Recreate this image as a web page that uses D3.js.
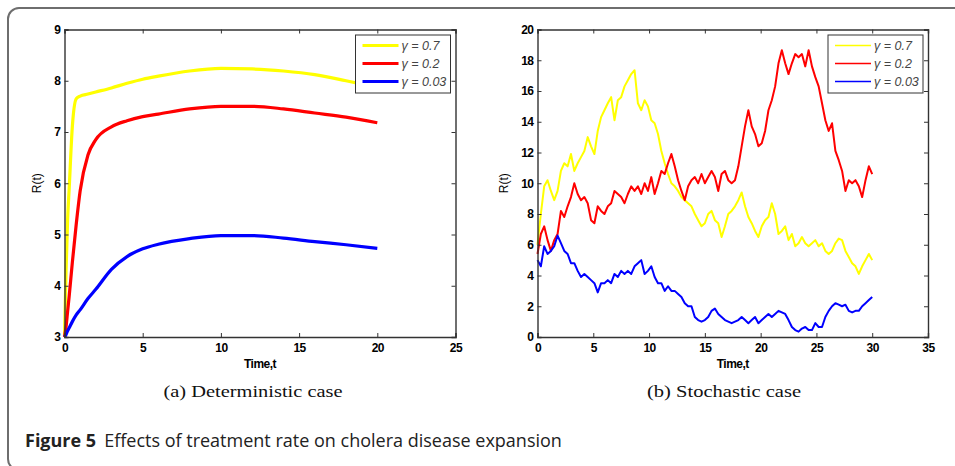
<!DOCTYPE html>
<html>
<head>
<meta charset="utf-8">
<script src="https://cdn.jsdelivr.net/npm/d3@7"></script>
<style>
  body { margin: 0; background: #fff; }
  svg { display: block; }
  .tick text, .axlab { font-family: "Liberation Sans", Arial, sans-serif; font-weight: bold; font-size: 12px; fill: #000; letter-spacing: -0.5px; }
</style>
</head>
<body>
<svg id="chart" width="955" height="466"></svg>
<script>
// ---------- DATA ----------
const seriesNames = ["γ = 0.7", "γ = 0.2", "γ = 0.03"];
const seriesColors = ["#ffff00", "#ff0000", "#0000ff"];

// (a) Deterministic case
const detTime = [0, 0.1, 0.2, 0.3, 0.5, 0.75, 1, 1.5, 2, 3, 4, 5, 6, 8, 10, 12, 14, 16, 18, 20];
const detYellow = [3, 4.3, 5.3, 5.9, 7.1, 7.65, 7.7, 7.74, 7.78, 7.86, 7.95, 8.03, 8.09, 8.19, 8.24, 8.23, 8.19, 8.12, 8.0, 7.87];
const detRed    = [3, 3.2, 3.5, 3.8, 4.45, 5.2, 5.85, 6.55, 6.85, 7.1, 7.22, 7.3, 7.35, 7.45, 7.5, 7.5, 7.45, 7.37, 7.29, 7.18];
const detBlue   = [3, 3.05, 3.12, 3.18, 3.3, 3.43, 3.53, 3.75, 3.93, 4.32, 4.57, 4.72, 4.81, 4.92, 4.98, 4.98, 4.93, 4.86, 4.8, 4.73];
const detXTicks = [0, 5, 10, 15, 20, 25];
const detYTicks = [3, 4, 5, 6, 7, 8, 9];

// (b) Stochastic case
const stoTime = [
  0, 0.3, 0.6, 0.9, 1.2, 1.5, 1.8, 2.1, 2.4, 2.7,
  3, 3.3, 3.6, 3.9, 4.2, 4.5, 4.8, 5.1, 5.4, 5.7,
  6, 6.3, 6.6, 6.9, 7.2, 7.5, 7.8, 8.1, 8.4, 8.7,
  9, 9.3, 9.6, 9.9, 10.2, 10.5, 10.8, 11.1, 11.4, 11.7,
  12, 12.3, 12.6, 12.9, 13.2, 13.5, 13.8, 14.1, 14.4, 14.7,
  15, 15.3, 15.6, 15.9, 16.2, 16.5, 16.8, 17.1, 17.4, 17.7,
  18, 18.3, 18.6, 18.9, 19.2, 19.5, 19.8, 20.1, 20.4, 20.7,
  21, 21.3, 21.6, 21.9, 22.2, 22.5, 22.8, 23.1, 23.4, 23.7,
  24, 24.3, 24.6, 24.9, 25.2, 25.5, 25.8, 26.1, 26.4, 26.7,
  27, 27.3, 27.6, 27.9, 28.2, 28.5, 28.8, 29.1, 29.4, 29.7,
  30];
const stoYellow = [
  6.0, 8.0, 9.8, 10.2, 9.5, 8.9, 9.5, 10.8, 11.3, 11.1,
  11.9, 10.8, 11.3, 11.7, 12.1, 13.0, 12.4, 11.9, 13.4, 14.3,
  14.75, 15.2, 15.6, 14.1, 15.4, 15.6, 16.3, 16.7, 17.1, 17.35,
  15.2, 14.75, 15.4, 15.0, 14.1, 13.9, 13.2, 12.1, 11.3, 10.6,
  10.0, 9.8, 9.5, 9.1, 8.9, 8.7, 8.5, 8.0, 7.6, 7.2,
  7.4, 8.0, 8.2, 7.6, 7.4, 6.5, 7.2, 8.0, 8.2, 8.5,
  8.9, 9.4, 8.5, 7.8, 7.4, 6.9, 6.5, 7.2, 7.6, 7.8,
  8.7, 8.0, 6.7, 6.9, 7.2, 6.3, 6.7, 5.9, 6.1, 6.5,
  6.1, 5.9, 6.1, 6.3, 5.9, 6.1, 5.6, 5.4, 5.6, 6.1,
  6.4, 6.3, 5.6, 5.2, 4.8, 4.6, 4.1, 4.6, 5.0, 5.4,
  5.0];
const stoRed = [
  5.4, 6.7, 7.2, 6.3, 5.6, 6.3, 6.7, 8.2, 7.8, 8.5,
  9.1, 10.0, 9.3, 8.9, 9.1, 8.7, 7.6, 7.4, 8.5, 8.2,
  8.0, 8.5, 8.7, 9.5, 9.3, 9.1, 8.7, 9.3, 9.8, 9.5,
  9.8, 9.3, 10.0, 9.5, 10.4, 9.3, 10.0, 10.8, 10.6, 11.3,
  11.9, 11.1, 10.2, 9.5, 8.9, 9.8, 10.2, 10.4, 10.0, 10.6,
  10.0, 10.4, 10.8, 10.4, 9.5, 10.6, 10.8, 10.2, 10.0, 10.2,
  11.1, 12.4, 13.7, 14.75, 13.7, 13.2, 12.4, 12.6, 13.4, 14.75,
  15.4, 16.3, 17.8, 18.65, 17.8, 17.1, 17.8, 18.4, 18.2, 18.4,
  17.6, 18.65, 17.6, 16.9, 16.3, 15.2, 14.1, 13.4, 13.9, 12.1,
  11.5, 10.8, 9.5, 10.2, 10.0, 10.2, 9.8, 9.1, 10.2, 11.1,
  10.6];
const stoBlue = [
  5.0, 4.6, 5.9, 5.4, 5.6, 5.9, 6.6, 6.1, 5.6, 5.4,
  4.8, 4.8, 4.3, 3.9, 4.1, 3.9, 3.7, 3.5, 2.9, 3.5,
  3.5, 3.7, 3.5, 4.1, 3.9, 4.3, 4.1, 4.3, 4.1, 4.6,
  4.8, 5.0, 4.1, 4.3, 4.6, 3.9, 3.5, 3.5, 3.0, 3.3,
  3.0, 3.0, 2.8, 2.6, 2.2, 2.0, 2.0, 1.3, 1.1, 1.0,
  1.1, 1.3, 1.7, 1.85, 1.5, 1.3, 1.1, 1.0, 0.9, 1.0,
  1.1, 1.3, 1.1, 0.9, 1.1, 1.3, 0.9, 1.1, 1.3, 1.5,
  1.3, 1.5, 1.7, 1.6, 1.5, 1.1, 0.65, 0.45, 0.35, 0.55,
  0.65, 0.45, 0.45, 0.9, 0.65, 0.65, 1.3, 1.7, 2.0, 2.2,
  2.1, 2.0, 2.1, 1.7, 1.6, 1.7, 1.7, 2.0, 2.2, 2.4,
  2.6];
const stoXTicks = [0, 5, 10, 15, 20, 25, 30, 35];
const stoYTicks = [0, 2, 4, 6, 8, 10, 12, 14, 16, 18, 20];

const subCaptions = ["(a) Deterministic case", "(b) Stochastic case"];
const xLabel = "Time,t";
const yLabel = "R(t)";
const figBold = "Figure 5";
const figText = "Effects of treatment rate on cholera disease expansion";

// ---------- DRAW ----------
const svg = d3.select("#chart");

// outer frame (top + left, rounded corner)
svg.append("rect")
  .attr("x", 8).attr("y", 8).attr("width", 1000).attr("height", 462)
  .attr("rx", 11).attr("fill", "none").attr("stroke", "#6e6e6e").attr("stroke-width", 2);

function panel(cfg) {
  const g = svg.append("g");
  const x = d3.scaleLinear().domain(cfg.xDomain).range([cfg.left, cfg.right]);
  const y = d3.scaleLinear().domain(cfg.yDomain).range([cfg.bottom, cfg.top]);
  const tl = 4;

  // lines
  const line = d3.line().x(d => x(d[0])).y(d => y(d[1])).curve(cfg.curve);
  cfg.series.forEach((vals, i) => {
    g.append("path")
      .datum(cfg.time.map((t, k) => [t, vals[k]]))
      .attr("fill", "none")
      .attr("stroke", seriesColors[i])
      .attr("stroke-width", cfg.lw)
      .attr("stroke-linejoin", "round")
      .attr("d", line);
  });

  // axes
  const axB = g.append("g").attr("transform", `translate(0,${cfg.bottom})`)
    .call(d3.axisBottom(x).tickValues(cfg.xTicks).tickSize(-tl).tickPadding(5).tickFormat(d3.format("d")));
  const axT = g.append("g").attr("transform", `translate(0,${cfg.top})`)
    .call(d3.axisTop(x).tickValues(cfg.xTicks).tickSize(-tl).tickFormat(""));
  const axL = g.append("g").attr("transform", `translate(${cfg.left},0)`)
    .call(d3.axisLeft(y).tickValues(cfg.yTicks).tickSize(-tl).tickPadding(4).tickFormat(d3.format("d")));
  const axR = g.append("g").attr("transform", `translate(${cfg.right},0)`)
    .call(d3.axisRight(y).tickValues(cfg.yTicks).tickSize(-tl).tickFormat(""));
  [axB, axT, axL, axR].forEach(a => {
    a.select(".domain").attr("stroke", "#333").attr("stroke-width", 1.4);
    a.selectAll(".tick line").attr("stroke", "#333").attr("stroke-width", 1);
  });
  axB.selectAll(".tick text").attr("dy", "0.85em");

  // axis labels
  g.append("text").attr("class", "axlab")
    .attr("x", (cfg.left + cfg.right) / 2).attr("y", cfg.bottom + 31)
    .attr("text-anchor", "middle").text(xLabel);
  g.append("text").attr("class", "axlab")
    .attr("transform", `translate(${cfg.yLabelX},${(cfg.top + cfg.bottom) / 2}) rotate(-90)`)
    .attr("text-anchor", "middle").style("font-weight", "normal").style("letter-spacing", "0px").text(yLabel);

  // legend
  const lg = g.append("g");
  lg.append("rect")
    .attr("x", cfg.leg.x).attr("y", 35).attr("width", cfg.leg.w).attr("height", 58)
    .attr("fill", "#fff").attr("stroke", "#333").attr("stroke-width", 1);
  seriesNames.forEach((name, i) => {
    const yy = 45.5 + i * 18;
    lg.append("line")
      .attr("x1", cfg.leg.x + 7).attr("x2", cfg.leg.x + 43)
      .attr("y1", yy).attr("y2", yy)
      .attr("stroke", seriesColors[i]).attr("stroke-width", cfg.legLw);
    lg.append("text")
      .attr("x", cfg.leg.x + 46).attr("y", yy + 4.5)
      .attr("font-family", "Liberation Sans, Arial, sans-serif")
      .attr("font-style", "italic").attr("font-size", 12.5).attr("fill", "#444")
      .text(name);
  });

  // subcaption
  svg.append("text")
    .attr("x", cfg.capX).attr("y", 397)
    .attr("text-anchor", "middle")
    .attr("font-family", "Liberation Serif, 'DejaVu Serif', serif")
    .attr("font-size", 17.5).attr("fill", "#111")
    .attr("textLength", cfg.capW).attr("lengthAdjust", "spacingAndGlyphs")
    .text(cfg.caption);
}

panel({
  xDomain: [0, 25], yDomain: [3, 9],
  left: 64.5, right: 455.5, top: 29.5, bottom: 337,
  time: detTime, series: [detYellow, detRed, detBlue],
  xTicks: detXTicks, yTicks: detYTicks,
  curve: d3.curveMonotoneX, lw: 3.2, legLw: 3.2,
  leg: { x: 355.5, w: 95 }, yLabelX: 41,
  capX: 253, capW: 179, caption: subCaptions[0]
});

panel({
  xDomain: [0, 35], yDomain: [0, 20],
  left: 537.5, right: 928, top: 29.5, bottom: 337,
  time: stoTime, series: [stoYellow, stoRed, stoBlue],
  xTicks: stoXTicks, yTicks: stoYTicks,
  curve: d3.curveLinear, lw: 2, legLw: 1.6,
  leg: { x: 828, w: 95 }, yLabelX: 508,
  capX: 724, capW: 154, caption: subCaptions[1]
});

// figure caption
const cap = svg.append("text")
  .attr("x", 25).attr("y", 447)
  .attr("font-family", "'Open Sans', 'Noto Sans', sans-serif")
  .attr("font-size", 18).attr("fill", "#222");
cap.append("tspan").attr("font-weight", "bold").text(figBold);
cap.append("tspan").attr("dx", 8).text(figText);
</script>
</body>
</html>
